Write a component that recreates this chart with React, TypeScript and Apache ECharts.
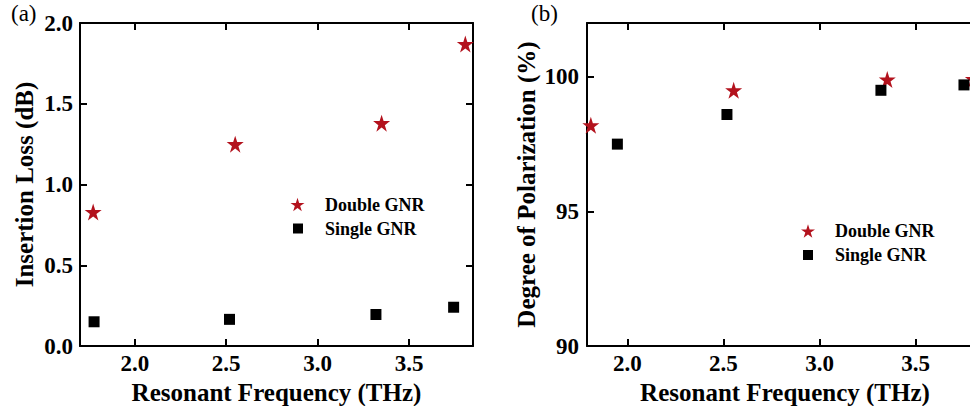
import React, { useEffect, useRef } from "react";
import * as echarts from "echarts";

// Panel (a): Insertion loss
const freqDoubleA = [1.772, 2.549, 3.35, 3.808];
const lossDouble = [0.83, 1.25, 1.38, 1.87];
const freqSingleA = [1.777, 2.518, 3.319, 3.744];
const lossSingle = [0.15, 0.165, 0.195, 0.24];

// Panel (b): Degree of polarization
const freqDoubleB = [1.81, 2.553, 3.352, 3.8];
const dopDouble = [98.2, 99.5, 99.9, 99.92];
const freqSingleB = [1.948, 2.518, 3.319, 3.751];
const dopSingle = [97.5, 98.6, 99.5, 99.7];

const xTicks = [2.0, 2.5, 3.0, 3.5];
const yTicksA = [0, 0.5, 1.0, 1.5, 2.0];
const yTicksB = [90, 95, 100];

const STAR =
  "path://M50,0 L61.23,34.55 L97.55,34.55 L68.16,55.9 L79.39,90.45 L50,69.1 L20.61,90.45 L31.84,55.9 L2.45,34.55 L38.77,34.55 Z";
const RED = "#b3121d";
const FONT = "'Liberation Serif', 'Times New Roman', serif";

function zip(xs: number[], ys: number[]) {
  return xs.map((x, i) => [x, ys[i]]);
}

export default function App() {
  const ref = useRef<HTMLDivElement>(null);
  useEffect(() => {
    if (!ref.current) return;
    const chart = echarts.init(ref.current, undefined, { renderer: "svg" });
    const lineStyle = { color: "#000", width: 2 };
    const tickStyle = { show: true, inside: true, length: 7, lineStyle: { color: "#000", width: 2 } };
    const labelStyle = {
      fontFamily: FONT,
      fontWeight: "bold" as const,
      fontSize: 23,
      color: "#000",
    };
    const nameStyle = {
      fontFamily: FONT,
      fontWeight: "bold" as const,
      fontSize: 25,
      color: "#000",
    };
    const fmt1 = (v: number) => v.toFixed(1);

    const mkX = (grid: number, min: number, max: number, bottom: boolean) => ({
      type: "value",
      gridIndex: grid,
      position: bottom ? "bottom" : "top",
      min,
      max,
      axisLine: { show: true, onZero: false, lineStyle },
      axisTick: { ...tickStyle, customValues: xTicks },
      axisLabel: bottom
        ? { show: true, margin: 6, customValues: xTicks, formatter: fmt1, ...labelStyle }
        : { show: false },
      splitLine: { show: false },
      name: bottom ? "Resonant Frequency (THz)" : "",
      nameLocation: "middle",
      nameGap: 33,
      nameTextStyle: nameStyle,
    });

    const legendText = (pad: number) => ({
      fontFamily: FONT,
      fontWeight: "bold" as const,
      fontSize: 18,
      color: "#000",
      lineHeight: 20,
      padding: [0, 0, 0, pad],
    });
    const mkLegend = (name: string, icon: string, size: number, left: number, top: number, pad: number) => ({
      data: [{ name, icon }],
      left,
      top,
      padding: 0,
      itemWidth: size,
      itemHeight: size,
      selectedMode: false,
      textStyle: legendText(pad),
    });

    const symStyle = (color: string) => ({ color, opacity: 1 });

    chart.setOption({
      animation: false,
      backgroundColor: "#fff",
      title: [
        { text: "(a)", left: 11, top: 2, padding: 0, textStyle: { fontFamily: FONT, fontWeight: "normal", fontSize: 23, color: "#000" } },
        { text: "(b)", left: 531, top: 2, padding: 0, textStyle: { fontFamily: FONT, fontWeight: "normal", fontSize: 23, color: "#000" } },
      ],
      legend: [
        mkLegend("Double GNR", STAR, 14, 290.5, 194.5, 15.5),
        mkLegend("Single GNR", "rect", 10, 293, 218.5, 17),
        mkLegend("Double GNR", STAR, 14, 801, 221, 15),
        mkLegend("Single GNR", "rect", 10, 803, 245, 17),
      ],
      grid: [
        { left: 80, top: 23, width: 393, height: 323, outerBoundsMode: "none", containLabel: false },
        { left: 587, top: 23, right: -13, height: 323, outerBoundsMode: "none", containLabel: false },
      ],
      xAxis: [
        mkX(0, 1.7, 3.85, true),
        mkX(0, 1.7, 3.85, false),
        mkX(1, 1.79, 3.85, true),
        mkX(1, 1.79, 3.85, false),
      ],
      yAxis: [
        {
          type: "value",
          gridIndex: 0,
          position: "left",
          min: 0,
          max: 2,
          axisLine: { show: true, onZero: false, lineStyle },
          axisTick: { ...tickStyle, customValues: yTicksA },
          axisLabel: { show: true, margin: 7, customValues: yTicksA, formatter: fmt1, ...labelStyle },
          splitLine: { show: false },
          name: "Insertion Loss (dB)",
          nameLocation: "middle",
          nameGap: 43,
          nameTextStyle: nameStyle,
        },
        {
          type: "value",
          gridIndex: 0,
          position: "right",
          min: 0,
          max: 2,
          axisLine: { show: true, onZero: false, lineStyle },
          axisTick: { ...tickStyle, customValues: yTicksA },
          axisLabel: { show: false },
          splitLine: { show: false },
        },
        {
          type: "value",
          gridIndex: 1,
          position: "left",
          min: 90,
          max: 102,
          axisLine: { show: true, onZero: false, lineStyle },
          axisTick: { ...tickStyle, customValues: yTicksB },
          axisLabel: { show: true, margin: 8, customValues: yTicksB, ...labelStyle },
          splitLine: { show: false },
          name: "Degree of Polarization (%)",
          nameLocation: "middle",
          nameGap: 48,
          nameTextStyle: nameStyle,
        },
        {
          type: "value",
          gridIndex: 1,
          position: "right",
          min: 90,
          max: 102,
          axisLine: { show: true, onZero: false, lineStyle },
          axisTick: { ...tickStyle, customValues: yTicksB },
          axisLabel: { show: false },
          splitLine: { show: false },
        },
      ],
      series: [
        {
          name: "Double GNR",
          type: "scatter",
          xAxisIndex: 0,
          yAxisIndex: 0,
          symbol: STAR,
          symbolSize: 17,
          clip: false,
          itemStyle: symStyle(RED),
          data: zip(freqDoubleA, lossDouble),
        },
        {
          name: "Single GNR",
          type: "scatter",
          xAxisIndex: 0,
          yAxisIndex: 0,
          symbol: "rect",
          symbolSize: 11,
          clip: false,
          itemStyle: symStyle("#000"),
          data: zip(freqSingleA, lossSingle),
        },
        {
          name: "Double GNR",
          type: "scatter",
          xAxisIndex: 2,
          yAxisIndex: 2,
          symbol: STAR,
          symbolSize: 17,
          clip: false,
          itemStyle: symStyle(RED),
          data: zip(freqDoubleB, dopDouble),
        },
        {
          name: "Single GNR",
          type: "scatter",
          xAxisIndex: 2,
          yAxisIndex: 2,
          symbol: "rect",
          symbolSize: 11,
          clip: false,
          itemStyle: symStyle("#000"),
          data: zip(freqSingleB, dopSingle),
        },
      ],
    });
    return () => chart.dispose();
  }, []);
  return (
    <div
      ref={ref}
      style={{ position: "fixed", left: 0, top: 0, width: 970, height: 406, background: "#fff" }}
    />
  );
}
